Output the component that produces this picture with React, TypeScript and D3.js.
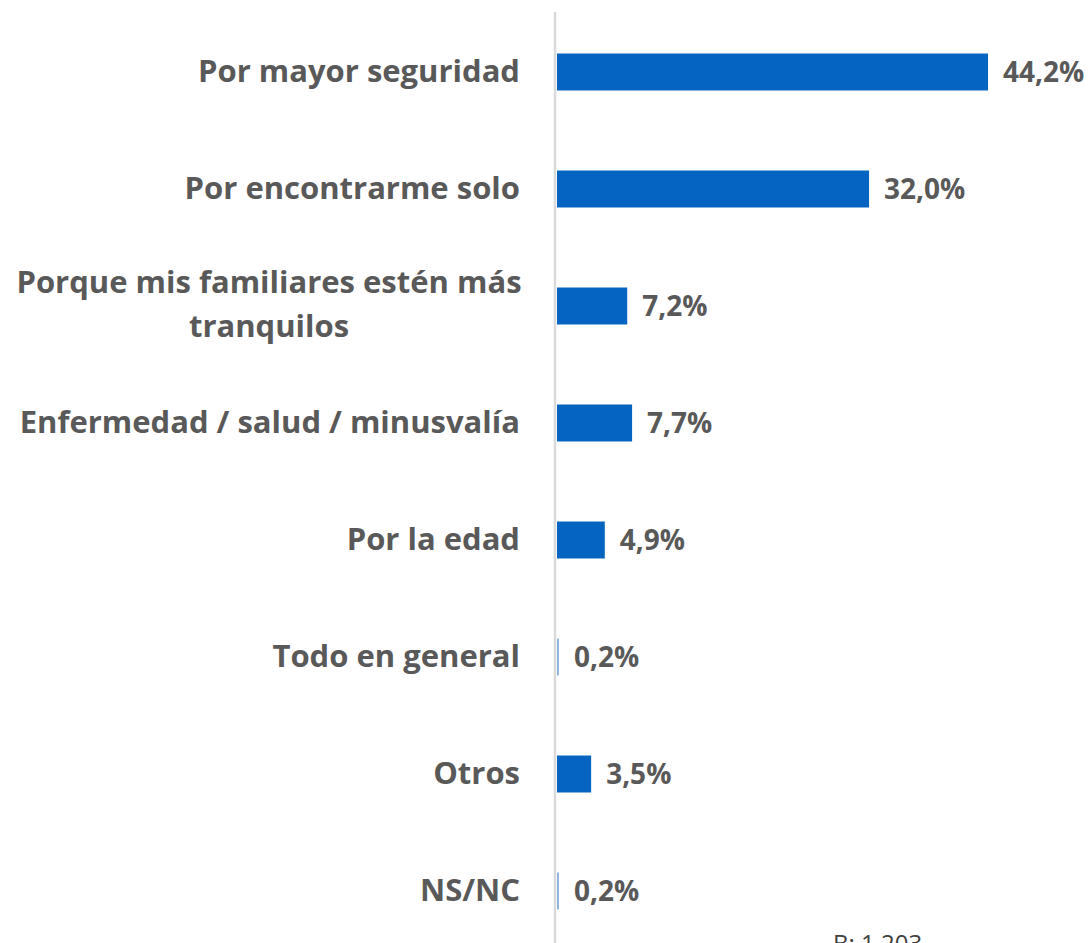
import React from 'react';
import * as d3 from 'd3';

const categories = [
  ['Por mayor seguridad'],
  ['Por encontrarme solo'],
  ['Porque mis familiares estén más', 'tranquilos'],
  ['Enfermedad / salud / minusvalía'],
  ['Por la edad'],
  ['Todo en general'],
  ['Otros'],
  ['NS/NC'],
];
const values = [44.2, 32.0, 7.2, 7.7, 4.9, 0.2, 3.5, 0.2];
const baseNote = 'B: 1.203';

const width = 1088;
const height = 943;

function App() {
  const keys = categories.map((c) => c.join(' '));

  const xScale = d3.scaleLinear().domain([0, 50]).range([557, 1044.6]);

  const yScale = d3
    .scaleBand<string>()
    .domain(keys)
    .range([13.5, 949.5])
    .paddingInner(0.684)
    .paddingOuter(0.342);

  const fmt = (v: number) => v.toFixed(1).replace('.', ',') + '%';

  return (
    <svg
      width={width}
      height={height}
      style={{ position: 'absolute', left: 0, top: 0 }}
      fontFamily="'Open Sans', sans-serif"
    >
      <rect width={width} height={height} fill="#ffffff" />
      {keys.map((k, i) => {
        const y = yScale(k)!;
        const bw = yScale.bandwidth();
        const w = xScale(values[i]) - xScale(0);
        const small = values[i] < 0.5;
        return (
          <g key={k}>
            <rect
              x={xScale(0)}
              y={y}
              width={w}
              height={bw}
              fill={small ? '#8fb4de' : '#0563c1'}
            />
            <text
              x={xScale(values[i]) + 15}
              y={y + bw / 2 + 10}
              fontSize={28}
              fontWeight={700}
              fill="#595959"
            >
              {fmt(values[i])}
            </text>
          </g>
        );
      })}
      {categories.map((lines, i) => {
        const cy = yScale(keys[i])! + yScale.bandwidth() / 2;
        const lh = 44;
        const multi = lines.length > 1;
        const first = multi ? cy - 13 : cy + 10;
        return (
          <text
            key={keys[i]}
            textAnchor={multi ? 'middle' : 'end'}
            fontSize={31}
            fontWeight={700}
            fill="#595959"
          >
            {lines.map((l, j) => (
              <tspan key={l} x={multi ? 269 : 520} y={first + j * lh}>
                {l}
              </tspan>
            ))}
          </text>
        );
      })}
      <line x1={555} x2={555} y1={12} y2={height} stroke="#d9d9d9" strokeWidth={2.5} />
      <text x={833} y={952} fontSize={24} fill="#404040">
        {baseNote}
      </text>
    </svg>
  );
}

export default App;
